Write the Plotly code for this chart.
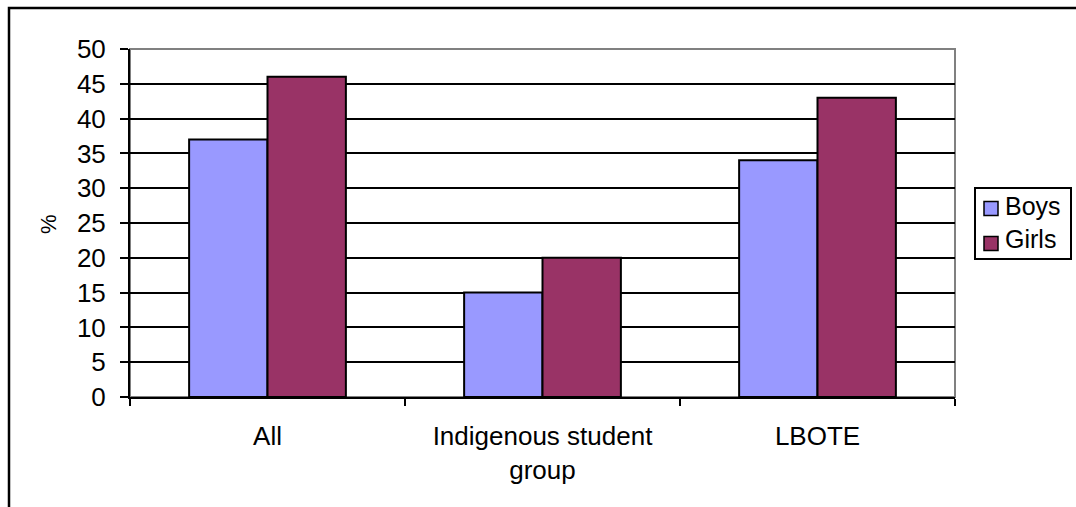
import plotly.graph_objects as go

categories = ["All", "Indigenous student<br>group", "LBOTE"]
boys = [37, 15, 34]
girls = [46, 20, 43]
y_ticks = [0, 5, 10, 15, 20, 25, 30, 35, 40, 45, 50]
series_names = ["Boys", "Girls"]
series_colors = ["#9999FF", "#993366"]

W, H = 1076, 507
L, R, T, B = 130, 955, 49, 397
pw, ph = R - L, B - T


def px_x(x):
    return (x - L) / pw


def px_y(y):
    return (B - y) / ph


font = dict(family="Liberation Sans, Arial, sans-serif", size=26, color="black")

fig = go.Figure()
for name, vals, col in zip(series_names, [boys, girls], series_colors):
    fig.add_trace(go.Bar(name=name, x=categories, y=vals,
                         marker=dict(color=col, line=dict(color="black", width=2))))

shapes = [
    # plot-area frame
    dict(type="rect", xref="paper", yref="paper", x0=0, x1=1, y0=0, y1=1,
         line=dict(color="#808080", width=2), layer="below"),
    # chart-area frame
    dict(type="rect", xref="paper", yref="paper",
         x0=px_x(9), x1=px_x(1100), y0=px_y(8), y1=px_y(540),
         line=dict(color="black", width=2.5), layer="above"),
    # legend box
    dict(type="rect", xref="paper", yref="paper",
         x0=px_x(975), x1=px_x(1071), y0=px_y(188), y1=px_y(259),
         line=dict(color="black", width=2), fillcolor="white", layer="above"),
]
annotations = [
    dict(text="%", xref="paper", yref="paper", x=px_x(48), y=px_y(224),
         xanchor="center", yanchor="middle",
         showarrow=False, textangle=-90, font=dict(size=22)),
]
# legend entries
for i, (name, col) in enumerate(zip(series_names, series_colors)):
    sy = 208.5 + i * 35
    ty = 206 + i * 33
    shapes.append(dict(type="rect", xref="paper", yref="paper",
                       x0=px_x(984), x1=px_x(998), y0=px_y(sy - 7), y1=px_y(sy + 7),
                       line=dict(color="black", width=1.5), fillcolor=col,
                       layer="above"))
    annotations.append(dict(text=name, xref="paper", yref="paper",
                            x=px_x(1003), y=px_y(ty), xanchor="left",
                            yanchor="middle", showarrow=False,
                            font=dict(size=25)))

fig.update_layout(
    width=W, height=H,
    margin=dict(l=L, r=W - R, t=T, b=H - B, pad=0),
    paper_bgcolor="white", plot_bgcolor="white",
    font=font,
    barmode="group", bargap=0.43, bargroupgap=0,
    showlegend=False,
    xaxis=dict(showgrid=False, showline=True, linecolor="black", linewidth=2,
               ticks="outside", tickson="boundaries", ticklen=7, tickwidth=2,
               tickcolor="black", ticklabelstandoff=15),
    yaxis=dict(range=[0, 50], tickvals=y_ticks, showgrid=True, gridcolor="black",
               gridwidth=1.5, showline=True, linecolor="black", linewidth=2,
               ticks="outside", ticklen=8, tickwidth=2, tickcolor="black",
               zeroline=False, ticklabelstandoff=9),
    shapes=shapes,
    annotations=annotations,
)

fig.write_html("out.html")
